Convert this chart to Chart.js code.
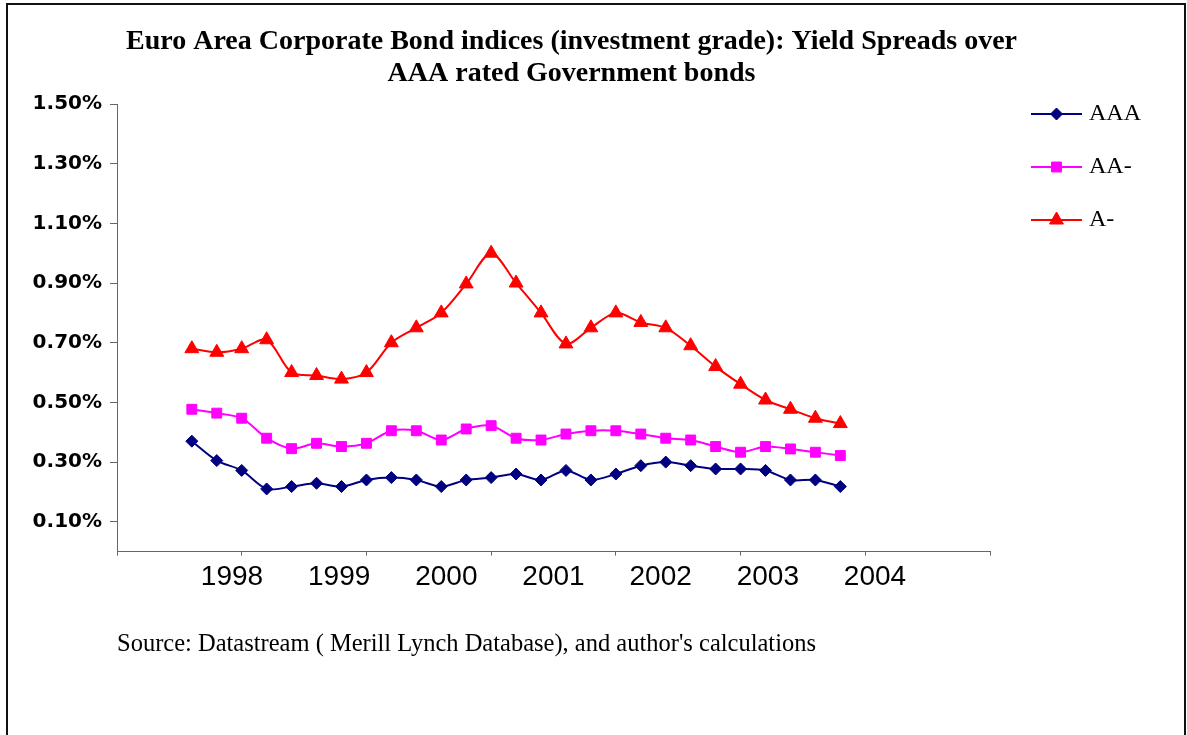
<!DOCTYPE html>
<html>
<head>
<meta charset="utf-8">
<script src="https://cdn.jsdelivr.net/npm/chart.js@4.4.1/dist/chart.umd.min.js"></script>
<style>
  html, body { margin: 0; padding: 0; background: #fff; }
  #wrap { width: 1187px; height: 735px; position: relative; }
</style>
</head>
<body>
<div id="wrap"><canvas id="c" width="1187" height="735"></canvas></div>
<script>
// ---- data ----
const observations = [0, 1, 2, 3, 4, 5, 6, 7, 8, 9, 10, 11, 12, 13, 14, 15, 16, 17, 18, 19, 20, 21, 22, 23, 24, 25, 26];
const yearLabels = [1998, 1999, 2000, 2001, 2002, 2003, 2004];
const yTickValues = [0.1, 0.3, 0.5, 0.7, 0.9, 1.1, 1.3, 1.5];
const seriesNames = ['AAA', 'AA-', 'A-'];
const spreadAAA = [0.37, 0.305, 0.272, 0.21, 0.218, 0.229, 0.218, 0.24, 0.248, 0.24, 0.218, 0.24, 0.248,
                   0.26, 0.24, 0.272, 0.24, 0.26, 0.288, 0.30, 0.288, 0.277, 0.277, 0.272, 0.24, 0.24, 0.218];
const spreadAAminus = [0.477, 0.464, 0.447, 0.38, 0.345, 0.363, 0.352, 0.363, 0.405, 0.405, 0.374, 0.411, 0.422,
                       0.38, 0.374, 0.394, 0.405, 0.405, 0.394, 0.38, 0.374, 0.352, 0.333, 0.352, 0.344, 0.333, 0.322];
const spreadAminus = [0.68, 0.668, 0.68, 0.71, 0.60, 0.59, 0.578, 0.60, 0.70, 0.75, 0.80, 0.897, 1.0,
                      0.90, 0.80, 0.696, 0.75, 0.80, 0.768, 0.75, 0.69, 0.62, 0.561, 0.508, 0.477, 0.447, 0.429];
const titleLines = ['Euro Area Corporate Bond indices (investment grade): Yield Spreads over', 'AAA rated Government bonds'];
const sourceText = "Source: Datastream ( Merill Lynch Database), and author's calculations";

// axis ranges (in observation / year units)
const obsAxisMin = -3, obsAxisMax = 32, obsTickEvery = 5;
const yearAxisMin = 1996.927, yearAxisMax = 2005.073;

const colors = ['#000080', '#FF00FF', '#FF0000'];
const styles = ['rectRot', 'rect', 'triangle'];
const radii = [6, 7, 8];

function makeIcon(color, style, radius) {
  const c = document.createElement('canvas');
  c.width = 90; c.height = 22;
  const g = c.getContext('2d');
  g.strokeStyle = color; g.lineWidth = 2;
  g.beginPath(); g.moveTo(28, 11); g.lineTo(79, 11); g.stroke();
  g.fillStyle = color; g.strokeStyle = color; g.lineWidth = 1;
  Chart.helpers.drawPoint(g, {pointStyle: style, radius: radius, rotation: 0, borderWidth: 1}, 53.5, 11);
  return c;
}
const icons = colors.map((c, i) => makeIcon(c, styles[i], radii[i]));

const seriesData = [spreadAAA, spreadAAminus, spreadAminus];

const framePlugin = {
  id: 'frame',
  beforeDraw(chart) {
    const ctx = chart.ctx;
    ctx.save();
    ctx.fillStyle = '#fff';
    ctx.fillRect(0, 0, chart.width, chart.height);
    ctx.restore();
  },
  afterDraw(chart) {
    const ctx = chart.ctx;
    ctx.save();
    ctx.strokeStyle = '#111';
    ctx.lineWidth = 2;
    ctx.beginPath();
    ctx.moveTo(7, 740); ctx.lineTo(7, 4); ctx.lineTo(1185, 4); ctx.lineTo(1185, 740);
    ctx.stroke();
    ctx.restore();
  }
};

new Chart(document.getElementById('c'), {
  type: 'line',
  data: {
    labels: observations,
    datasets: seriesNames.map((name, i) => ({
      label: name,
      data: seriesData[i],
      borderColor: colors[i],
      backgroundColor: colors[i],
      pointBackgroundColor: colors[i],
      pointBorderColor: colors[i],
      pointStyle: styles[i],
      pointRadius: radii[i],
      pointBorderWidth: 1,
      borderWidth: 2,
      tension: 0.3,
      fill: false,
      xAxisID: 'x',
      yAxisID: 'y'
    }))
  },
  options: {
    responsive: false,
    devicePixelRatio: 1,
    animation: false,
    layout: { padding: { left: 0, right: 44, top: 0, bottom: 76 } },
    scales: {
      x: {
        type: 'linear', position: 'bottom', min: obsAxisMin, max: obsAxisMax,
        afterBuildTicks: s => {
          const t = [];
          for (let v = obsAxisMin; v <= obsAxisMax; v += obsTickEvery) t.push({value: v});
          s.ticks = t;
        },
        grid: { display: true, drawOnChartArea: false, drawTicks: true, tickLength: 4, color: '#666', lineWidth: 1 },
        border: { display: true, color: '#666', width: 1 },
        ticks: { display: false },
        afterFit: s => { s.height = 5; }
      },
      x2: {
        type: 'linear', position: 'bottom', min: yearAxisMin, max: yearAxisMax,
        afterBuildTicks: s => { s.ticks = yearLabels.map(v => ({value: v})); },
        grid: { display: false, drawTicks: false },
        border: { display: false },
        ticks: { font: { family: 'Liberation Sans', size: 28 }, color: '#000', padding: 4, maxRotation: 0, autoSkip: false,
                 callback: v => String(v) },
        afterFit: s => { s.height = 40; }
      },
      y: {
        type: 'linear', position: 'left', min: 0, max: 1.5,
        afterBuildTicks: s => { s.ticks = yTickValues.map(v => ({value: v})); },
        grid: { drawOnChartArea: false, drawTicks: true, tickLength: 7, color: '#666' },
        border: { display: true, color: '#666', width: 1 },
        ticks: { font: { family: 'DejaVu Sans', size: 20, weight: 'bold' }, color: '#000', padding: 8,
                 callback: v => v.toFixed(2) + '%' },
        afterFit: s => { s.width = 117; }
      }
    },
    plugins: {
      title: {
        display: true, text: titleLines, color: '#000',
        font: { family: 'Liberation Serif', size: 28, weight: 'bold', lineHeight: 32 / 28 },
        padding: { top: 26, bottom: 14 }
      },
      subtitle: {
        display: true, text: sourceText, position: 'bottom', align: 'start', fullSize: false, color: '#000',
        font: { family: 'Liberation Serif', size: 24.5 },
        padding: { top: 33, bottom: 0 }
      },
      legend: {
        display: true, position: 'right', align: 'start', maxWidth: 153,
        title: { display: true, text: ' ', font: { size: 24, lineHeight: 1 }, padding: { top: 25, bottom: 24 } },
        labels: {
          usePointStyle: true, pointStyleWidth: 58, padding: 29, color: '#000',
          font: { family: 'Liberation Serif', size: 24 },
          generateLabels: chart => chart.data.datasets.map((ds, i) => ({
            text: ds.label, pointStyle: icons[i], fillStyle: ds.borderColor, strokeStyle: ds.borderColor,
            lineWidth: 0, hidden: false, datasetIndex: i, fontColor: '#000'
          }))
        }
      },
      tooltip: { enabled: false }
    }
  },
  plugins: [framePlugin]
});
</script>
</body>
</html>
